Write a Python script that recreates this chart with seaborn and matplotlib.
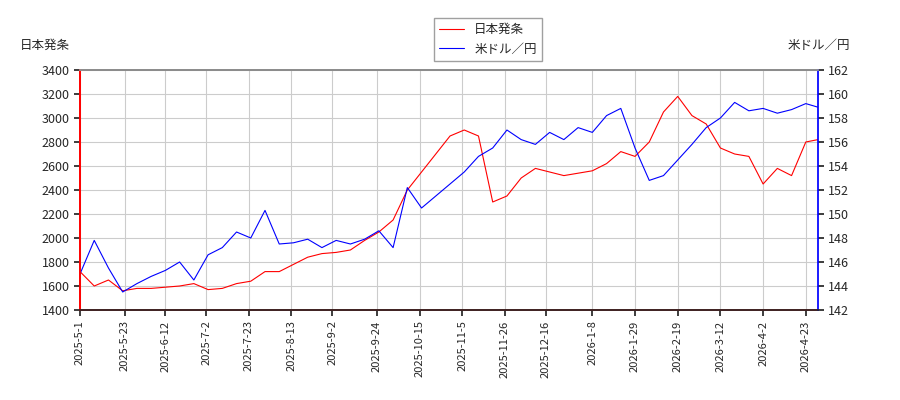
import numpy as np
import pandas as pd
import matplotlib
matplotlib.use("Agg")
import matplotlib.pyplot as plt
import seaborn as sns

# weekly readings
dates = pd.date_range("2025-05-01", periods=53, freq="7D")
stock = [1720, 1600, 1650, 1560, 1580, 1580, 1590, 1600, 1620, 1570,
         1580, 1620, 1640, 1720, 1720, 1780, 1840, 1870, 1880, 1900,
         1980, 2050, 2150, 2400, 2550, 2700, 2850, 2900, 2850, 2300,
         2350, 2500, 2580, 2550, 2520, 2540, 2560, 2620, 2720, 2680,
         2800, 3050, 3180, 3020, 2950, 2750, 2700, 2680, 2450, 2580,
         2520, 2800, 2820]
usdjpy = [145.0, 147.8, 145.5, 143.5, 144.2, 144.8, 145.3, 146.0, 144.5, 146.6,
          147.2, 148.5, 148.0, 150.3, 147.5, 147.6, 147.9, 147.2, 147.8, 147.5,
          147.9, 148.6, 147.2, 152.2, 150.5, 151.5, 152.5, 153.5, 154.8, 155.5,
          157.0, 156.2, 155.8, 156.8, 156.2, 157.2, 156.8, 158.2, 158.8, 155.5,
          152.8, 153.2, 154.5, 155.8, 157.2, 158.0, 159.3, 158.6, 158.8, 158.4,
          158.7, 159.2, 158.9]
last_date = pd.Timestamp("2026-04-29")
dates = list(dates[:52]) + [last_date]
tick_dates = ["2025-05-01", "2025-05-23", "2025-06-12", "2025-07-02", "2025-07-23",
              "2025-08-13", "2025-09-02", "2025-09-24", "2025-10-15", "2025-11-05",
              "2025-11-26", "2025-12-16", "2026-01-08", "2026-01-29", "2026-02-19",
              "2026-03-12", "2026-04-02", "2026-04-23"]

sns.set_theme(style="white")
plt.rcParams["font.family"] = ["Noto Sans CJK JP", "DejaVu Sans"]

fig = plt.figure(figsize=(9, 4), dpi=100)
ax = fig.add_axes([80 / 900, 90 / 400, 738 / 900, 240 / 400])
ax2 = ax.twinx()

df = pd.DataFrame({"date": dates, "stock": stock, "usd": usdjpy})
sns.lineplot(data=df, x="date", y="stock", ax=ax, color="red", lw=0.8, label="日本発条", legend=False)
sns.lineplot(data=df, x="date", y="usd", ax=ax2, color="blue", lw=0.8, label="米ドル／円", legend=False)

ax.set_xlim(pd.Timestamp("2025-05-01"), last_date)
ax.set_ylim(1400, 3400)
ax.set_yticks(range(1400, 3401, 200))
ax2.set_ylim(142, 162)
ax2.set_yticks(range(142, 163, 2))
ticks = pd.to_datetime(tick_dates)
ax.set_xticks(ticks)
ax.set_xticklabels([f"{d.year}-{d.month}-{d.day}" for d in ticks], rotation=90, fontsize=8)
ax.tick_params(axis="y", labelsize=9, length=4, left=True)
ax2.tick_params(axis="y", labelsize=9, length=4, right=True)
ax.tick_params(axis="x", length=4, bottom=True)
ax.grid(True, color="#cccccc", lw=0.8)
ax.set_xlabel("")
ax.set_ylabel("")
ax2.set_ylabel("")
for s in ["left", "bottom"]:
    ax.spines[s].set_color("red")
ax.spines["right"].set_visible(False)
ax2.spines["left"].set_color("red")
ax2.spines["right"].set_color("blue")
ax2.spines["top"].set_color("#999999")

fig.text(20 / 900, 1 - 45 / 400, "日本発条", fontsize=9, va="center")
fig.text(850 / 900, 1 - 45 / 400, "米ドル／円", fontsize=9, va="center", ha="right")
h1, l1 = ax.get_legend_handles_labels()
h2, l2 = ax2.get_legend_handles_labels()
fig.legend(h1 + h2, l1 + l2, loc="upper center", bbox_to_anchor=(488 / 900, 1 - 12 / 400),
           fontsize=9, frameon=True, fancybox=False, edgecolor="#888888")
fig.savefig("out.png")
